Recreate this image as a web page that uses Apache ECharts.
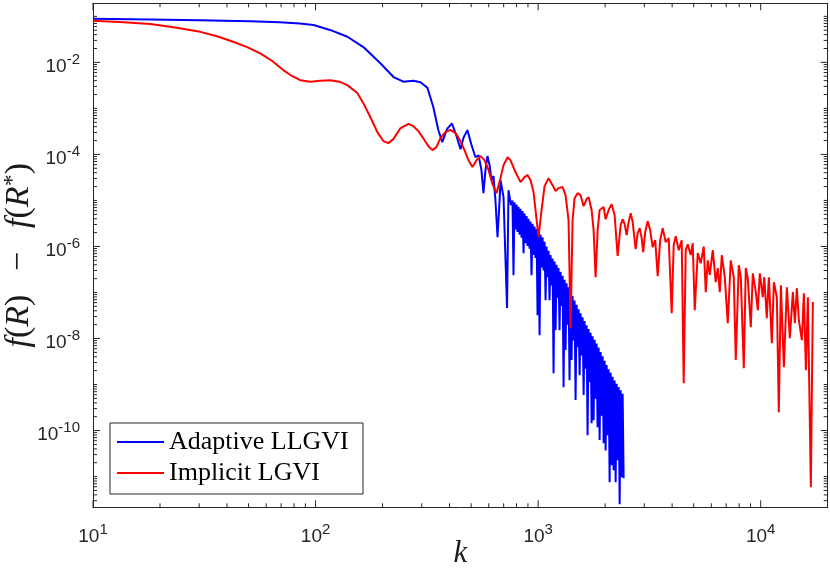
<!DOCTYPE html>
<html><head><meta charset="utf-8">
<script src="https://cdn.jsdelivr.net/npm/echarts@6/dist/echarts.min.js"></script>
<style>html,body{margin:0;padding:0;background:#fff}#c{width:830px;height:570px}</style>
</head><body><div id="c"></div>
<script>
// ---- tick labels ----
const xMajorTicks = [10, 100, 1000, 10000];
const xTickExponents = ['1', '2', '3', '4'];
const yMajorTicks = [1e-10, 1e-8, 1e-6, 1e-4, 1e-2];
const yTickExponents = ['-10', '-8', '-6', '-4', '-2'];
const seriesNames = ['Adaptive LLGVI', 'Implicit LGVI'];

// ---- Adaptive LLGVI (blue) ----
const adaptiveK = [10, 18, 30, 51, 69, 85, 98, 117, 139, 164, 195, 224, 248, 275, 296, 318, 338, 356, 371, 390,
  410, 430, 448, 462, 481, 502, 523, 540, 556, 568, 580, 592, 605, 617, 630, 643, 657, 671, 678, 699, 725, 736, 755,
  767, 775, 783, 791, 800, 808, 816, 825, 833, 842, 851, 860, 869, 878, 887, 896, 905, 915, 924, 934,
  944, 954, 963, 973, 984, 994, 1004, 1015, 1025, 1036, 1047, 1058, 1069, 1080, 1091, 1102, 1114, 1125, 1137, 1149,
  1161, 1173, 1185, 1198, 1210, 1223, 1235, 1248, 1261, 1274, 1288, 1301, 1315, 1328, 1342, 1356, 1370, 1384, 1399, 1413,
  1428, 1443, 1458, 1473, 1489, 1504, 1520, 1536, 1552, 1568, 1584, 1601, 1617, 1634, 1651, 1668, 1686, 1703, 1721, 1739,
  1757, 1775, 1794, 1812, 1831, 1850, 1870, 1889, 1909, 1929, 1949, 1969, 1990, 2010, 2031, 2052, 2074, 2095, 2117, 2139,
  2161, 2184, 2207, 2230, 2253, 2276, 2300, 2324, 2348, 2373, 2397, 2422];
const adaptiveF = [0.0887, 0.085, 0.082, 0.078, 0.074, 0.070, 0.065, 0.050, 0.036, 0.0215, 0.0097, 0.0048, 0.0038, 0.0040,
  0.0037, 0.0028, 0.00107, 3.4e-4, 1.85e-4, 3.6e-4, 4.7e-4, 2.5e-4, 1.3e-4, 2.3e-4, 3.37e-4, 1.6e-4, 8.7e-5, 9.6e-5,
  4.6e-5, 1.44e-5, 4.6e-5, 9.2e-5, 5.9e-5, 2.76e-5, 3.4e-5, 1.0e-5, 1.59e-6, 1.0e-5, 2.76e-5, 1.18e-5, 4.6e-8, 1.67e-5, 7.9e-6,
  1.0e-5, 2.38e-7, 9.1e-6, 2.35e-6, 8.1e-6, 2.06e-6, 7.3e-6, 1.79e-6, 6.6e-6, 1.55e-6, 5.9e-6, 7.15e-7, 5.2e-6, 1.17e-6,
  4.6e-6, 1.03e-6, 4.0e-6, 8.9e-7, 3.5e-6, 2.38e-7, 3.1e-6, 6.5e-7, 2.7e-6, 5.6e-7, 2.38e-6, 3.2e-8, 2.08e-6, 1.18e-8,
  1.82e-6, 3.5e-7, 1.59e-6, 3.0e-7, 1.27e-6, 6.8e-8, 1.0e-6, 2.15e-7, 8.1e-7, 6.8e-8, 6.5e-7, 1.42e-7, 5.5e-7, 1.76e-9,
  4.7e-7, 1.52e-8, 4.0e-7, 7.7e-8, 3.4e-7, 1.52e-8, 2.8e-7, 5.1e-8, 2.3e-7, 8.7e-10, 1.9e-7, 5.6e-9, 1.58e-7, 2.0e-8,
  1.3e-7, 1.24e-9, 1.05e-7, 3.4e-9, 8.4e-8, 9.1e-9, 6.7e-8, 4.6e-10, 5.4e-8, 6.5e-9, 4.3e-8, 1.59e-9, 3.55e-8, 4.3e-9,
  2.9e-8, 5.9e-10, 2.4e-8, 2.2e-9, 1.95e-8, 7.9e-11, 1.6e-8, 1.14e-9, 1.34e-8, 1.44e-10, 1.12e-8, 1.68e-10, 9.4e-9, 4.9e-10,
  7.8e-9, 1.18e-10, 6.4e-9, 6.2e-11, 5.1e-9, 2.1e-10, 4.1e-9, 5.3e-11, 3.3e-9, 3.7e-11, 2.65e-9, 7.9e-11, 2.16e-9, 7.5e-12,
  1.8e-9, 1.76e-11, 1.48e-9, 1.37e-11, 1.23e-9, 7.5e-12, 1.04e-9, 2.26e-11, 8.8e-10, 2.5e-12, 7.5e-10, 9.65e-12, 6.3e-10, 9.2e-12];

// ---- Implicit LGVI (red) ----
const implicitK = [10, 13.2, 18.1, 23.4, 30.3, 36.1, 42.6, 49.3, 56.4, 63.9, 71.6, 78.6, 85.4, 94.7, 105, 116.5, 127.8,
  138.9, 154, 163.9, 176.2, 189.5, 201.6, 212.3, 223.6, 240.4, 261.2, 275.2, 289.7, 308.3, 321.4, 335, 349.1, 363.9,
  383.2, 403.6, 425.1, 447.7, 466.6, 486.3, 507, 528.4, 550.9, 574.1, 598.4, 623.7, 650.3, 670.5, 699.2, 728.8, 751.1,
  782.9, 833.7, 868.5, 896.4, 924.5, 953.5, 973.4, 1004, 1036, 1069, 1114, 1161, 1198, 1235, 1288, 1328, 1370, 1399,
  1428, 1458, 1504, 1551, 1601, 1651, 1686, 1739, 1775, 1812, 1851, 1889, 1969, 2010, 2074, 2139, 2206, 2276, 2348,
  2398, 2447, 2499, 2551, 2605, 2659, 2743, 2800, 2859, 2919, 2965, 3027, 3106, 3187, 3271, 3357, 3445, 3535, 3628,
  3742, 3860, 3982, 4065, 4151, 4281, 4416, 4509, 4604, 4700, 4848, 4950, 5054, 5214, 5378, 5547, 5664, 5782, 5904,
  6090, 6282, 6414, 6548, 6686, 6897, 7112, 7336, 7568, 7727, 7971, 8138, 8395, 8570, 8750, 9026, 9216, 9506, 9705,
  9908, 10220, 10380, 10650, 10880, 11220, 11460, 11820, 12060, 12320, 12710, 13110, 13520, 13950, 14240, 14530,
  14840, 15310, 15630, 15960, 16290, 16800, 17150];
const implicitF = [0.080, 0.075, 0.068, 0.057, 0.046, 0.037, 0.028, 0.0215, 0.0157, 0.0107, 0.0068, 0.0050, 0.0041,
  0.0038, 0.0040, 0.0041, 0.0038, 0.0032, 0.00215, 0.0013, 6.5e-4, 3.05e-4, 1.95e-4, 1.76e-4, 2.15e-4, 3.7e-4, 4.6e-4,
  4.1e-4, 3.2e-4, 2.05e-4, 1.5e-4, 1.24e-4, 1.44e-4, 2.26e-4, 3.05e-4, 3.4e-4, 2.9e-4, 1.95e-4, 1.24e-4, 7.5e-5,
  5.3e-5, 7.5e-5, 9.2e-5, 7.5e-5, 4.6e-5, 2.26e-5, 1.44e-5, 2.5e-5, 5.85e-5, 8.7e-5, 7.5e-5, 4.6e-5, 2.5e-5, 3.2e-5,
  3.55e-5, 2.76e-5, 1.52e-5, 6.2e-6, 1.59e-6, 6.2e-6, 2.05e-5, 3.05e-5, 2.15e-5, 1.59e-5, 1.85e-5, 1.95e-5, 1.3e-5,
  3.7e-6, 1.67e-8, 3.7e-6, 1.12e-5, 1.44e-5, 1.3e-5, 7.5e-6, 1.07e-5, 1.18e-5, 6.2e-6, 2.26e-6, 2.15e-7, 2.26e-6,
  6.2e-6, 7.2e-6, 3.9e-6, 6.2e-6, 8.3e-6, 4.8e-6, 6.2e-7, 2.9e-6, 3.9e-6, 3.05e-6, 1.76e-6, 3.4e-6, 5.3e-6, 3.4e-6,
  8.7e-7, 1.95e-6, 2.5e-6, 1.52e-6, 7.5e-7, 2.05e-6, 3.55e-6, 2.26e-6, 9.6e-7, 1.37e-6, 2.26e-7, 1.37e-6, 2.5e-6,
  1.24e-6, 1.52e-6, 3.55e-8, 1.07e-6, 1.67e-6, 8.3e-7, 1.37e-6, 1.07e-9, 8.3e-7, 1.12e-6, 6.5e-7, 1.18e-6, 4.1e-8,
  7.2e-7, 4.3e-7, 1.0e-6, 1.02e-7, 5.0e-7, 2.4e-7, 8.3e-7, 1.67e-7, 3.4e-7, 1.02e-7, 6.5e-7, 2.15e-7, 2.15e-8, 5.0e-7,
  2.15e-7, 3.4e-9, 3.9e-7, 2.15e-7, 2.26e-9, 3.4e-7, 2.05e-7, 1.76e-8, 2.6e-7, 1.02e-7, 4.1e-8, 2.6e-7, 7.9e-8,
  2.15e-7, 2.76e-8, 2.15e-7, 7.9e-9, 1.67e-7, 7.9e-8, 2.5e-10, 1.44e-7, 2.38e-9, 1.3e-7, 1.02e-8, 1.02e-7, 2.15e-8,
  1.24e-7, 2.5e-8, 9.2e-9, 9.6e-8, 2.05e-9, 7.9e-8, 5.85e-12, 6.2e-8];

// ---- axis extents ----
const X_MIN = 10, X_MAX = 2e4;
const Y_MIN = 2.15e-12, Y_MAX = 0.192;
const GRID = { left: 93, right: 2.3, top: 3.3, bottom: 62.7 };

function minorLogTicks(lo, hi, majors) {
  const out = [];
  for (let e = Math.floor(Math.log10(lo)); e <= Math.ceil(Math.log10(hi)); e++) {
    for (let m = 1; m <= 9; m++) {
      const v = m * Math.pow(10, e);
      if (v < lo * 1.0001 || v > hi * 0.9999) continue;
      if (m === 1 && majors.some(t => Math.abs(Math.log10(t) - e) < 1e-9)) continue;
      out.push(v);
    }
  }
  return out;
}
const xMinorTicks = minorLogTicks(X_MIN, X_MAX, xMajorTicks);
const yMinorTicks = minorLogTicks(Y_MIN, Y_MAX, yMajorTicks);
const MAJOR_LEN = 7, MINOR_LEN = 4;

// inward tick segments expressed in axis units (tick length converted from px to decades)
const pxPerDecX = (830 - GRID.left - GRID.right) / Math.log10(X_MAX / X_MIN);
const pxPerDecY = (570 - GRID.top - GRID.bottom) / Math.log10(Y_MAX / Y_MIN);
const tickSegments = [];
xMajorTicks.concat(xMinorTicks).forEach((v, i) => {
  const len = i < xMajorTicks.length ? MAJOR_LEN : MINOR_LEN;
  const f = Math.pow(10, len / pxPerDecY);
  tickSegments.push([v, Y_MIN], [v, Y_MIN * f], null, [v, Y_MAX], [v, Y_MAX / f], null);
});
yMajorTicks.concat(yMinorTicks).forEach((v, i) => {
  const len = i < yMajorTicks.length ? MAJOR_LEN : MINOR_LEN;
  const f = Math.pow(10, len / pxPerDecX);
  tickSegments.push([X_MIN, v], [X_MIN * f, v], null, [X_MAX, v], [X_MAX / f, v], null);
});

const zip = (a, b) => a.map((k, i) => [k, b[i]]);
const axisColor = '#262626';

function expFormatter(ticks, exps) {
  return function (v) {
    let best = 0;
    for (let i = 1; i < ticks.length; i++) {
      if (Math.abs(Math.log10(v) - Math.log10(ticks[i])) < Math.abs(Math.log10(v) - Math.log10(ticks[best]))) best = i;
    }
    return '{b|10}{s|' + exps[best] + '}';
  };
}
const labelRich = {
  b: { fontFamily: 'Liberation Sans', fontSize: 19, color: axisColor, padding: [8, 0, 0, 0] },
  s: { fontFamily: 'Liberation Sans', fontSize: 15, color: axisColor, padding: [0, 0, 6, 0] }
};

function makeAxis(kind, pos, label) {
  const isX = kind === 'x';
  return {
    type: 'log', logBase: 10, gridIndex: 0, position: pos,
    min: isX ? X_MIN : Y_MIN, max: isX ? X_MAX : Y_MAX,
    axisLine: { show: true, onZero: false, lineStyle: { color: axisColor, width: 1 } },
    axisTick: { show: false },
    axisLabel: label || { show: false },
    splitLine: { show: false }
  };
}

const chart = echarts.init(document.getElementById('c'), null, { renderer: 'canvas' });
try {
  chart.setOption({
    animation: false,
    grid: { left: GRID.left, right: GRID.right, top: GRID.top, bottom: GRID.bottom, containLabel: false, outerBoundsMode: 'none' },
    xAxis: [
      Object.assign(makeAxis('x', 'bottom', {
        show: true, customValues: xMajorTicks, margin: 12,
        formatter: expFormatter(xMajorTicks, xTickExponents), rich: labelRich
      }), {
        name: 'k', nameLocation: 'middle', nameGap: 31, nameMoveOverlap: false,
        nameTextStyle: { fontFamily: 'Liberation Serif', fontStyle: 'italic', fontSize: 31, color: '#1a1a1a' }
      }),
      makeAxis('x', 'top')
    ],
    yAxis: [
      makeAxis('y', 'left', {
        show: true, customValues: yMajorTicks, margin: 13,
        formatter: expFormatter(yMajorTicks, yTickExponents), rich: labelRich
      }),
      makeAxis('y', 'right')
    ],
    legend: {
      orient: 'vertical', left: 110, top: 423,
      data: seriesNames,
      icon: 'rect', itemWidth: 47, itemHeight: 2, itemGap: 5,
      padding: [6, 6, 8, 7],
      borderColor: axisColor, borderWidth: 1, backgroundColor: '#ffffff',
      textStyle: { fontFamily: 'Liberation Serif', fontSize: 26, color: '#000', lineHeight: 25, width: 188 },
      selectedMode: false
    },
    series: [
      {
        name: 'axis ticks', type: 'line', data: tickSegments, showSymbol: false, symbol: 'none',
        connectNulls: false, silent: true, clip: false, z: 1,
        lineStyle: { color: axisColor, width: 1 }, itemStyle: { color: axisColor }
      },
      {
        name: seriesNames[0], type: 'line',
        data: zip(adaptiveK, adaptiveF), showSymbol: false, symbol: 'none',
        lineStyle: { color: '#0000ff', width: 2 }, itemStyle: { color: '#0000ff' }
      },
      {
        name: seriesNames[1], type: 'line',
        data: zip(implicitK, implicitF), showSymbol: false, symbol: 'none',
        lineStyle: { color: '#ff0000', width: 2 }, itemStyle: { color: '#ff0000' }
      }
    ]
  });
} catch (e) { }

// y-axis title
try {
  chart.setOption({
    yAxis: [{
      name: '{i|f}{r|(}{i|R}{r|)\u2002\u2009\u2212\u2009\u2002}{i|f}{r|(}{i|R}{sup|*}{r|)}',
      nameLocation: 'middle', nameRotate: 90, nameGap: 56, nameMoveOverlap: false,
      nameTextStyle: {
        rich: {
          i: { fontFamily: 'Liberation Serif', fontStyle: 'italic', fontSize: 34, color: '#1a1a1a' },
          r: { fontFamily: 'Liberation Serif', fontSize: 34, color: '#1a1a1a' },
          sup: { fontFamily: 'Liberation Serif', fontSize: 24, color: '#1a1a1a', padding: [0, 0, 12, 0] }
        }
      }
    }]
  });
} catch (e) { }
</script></body></html>
